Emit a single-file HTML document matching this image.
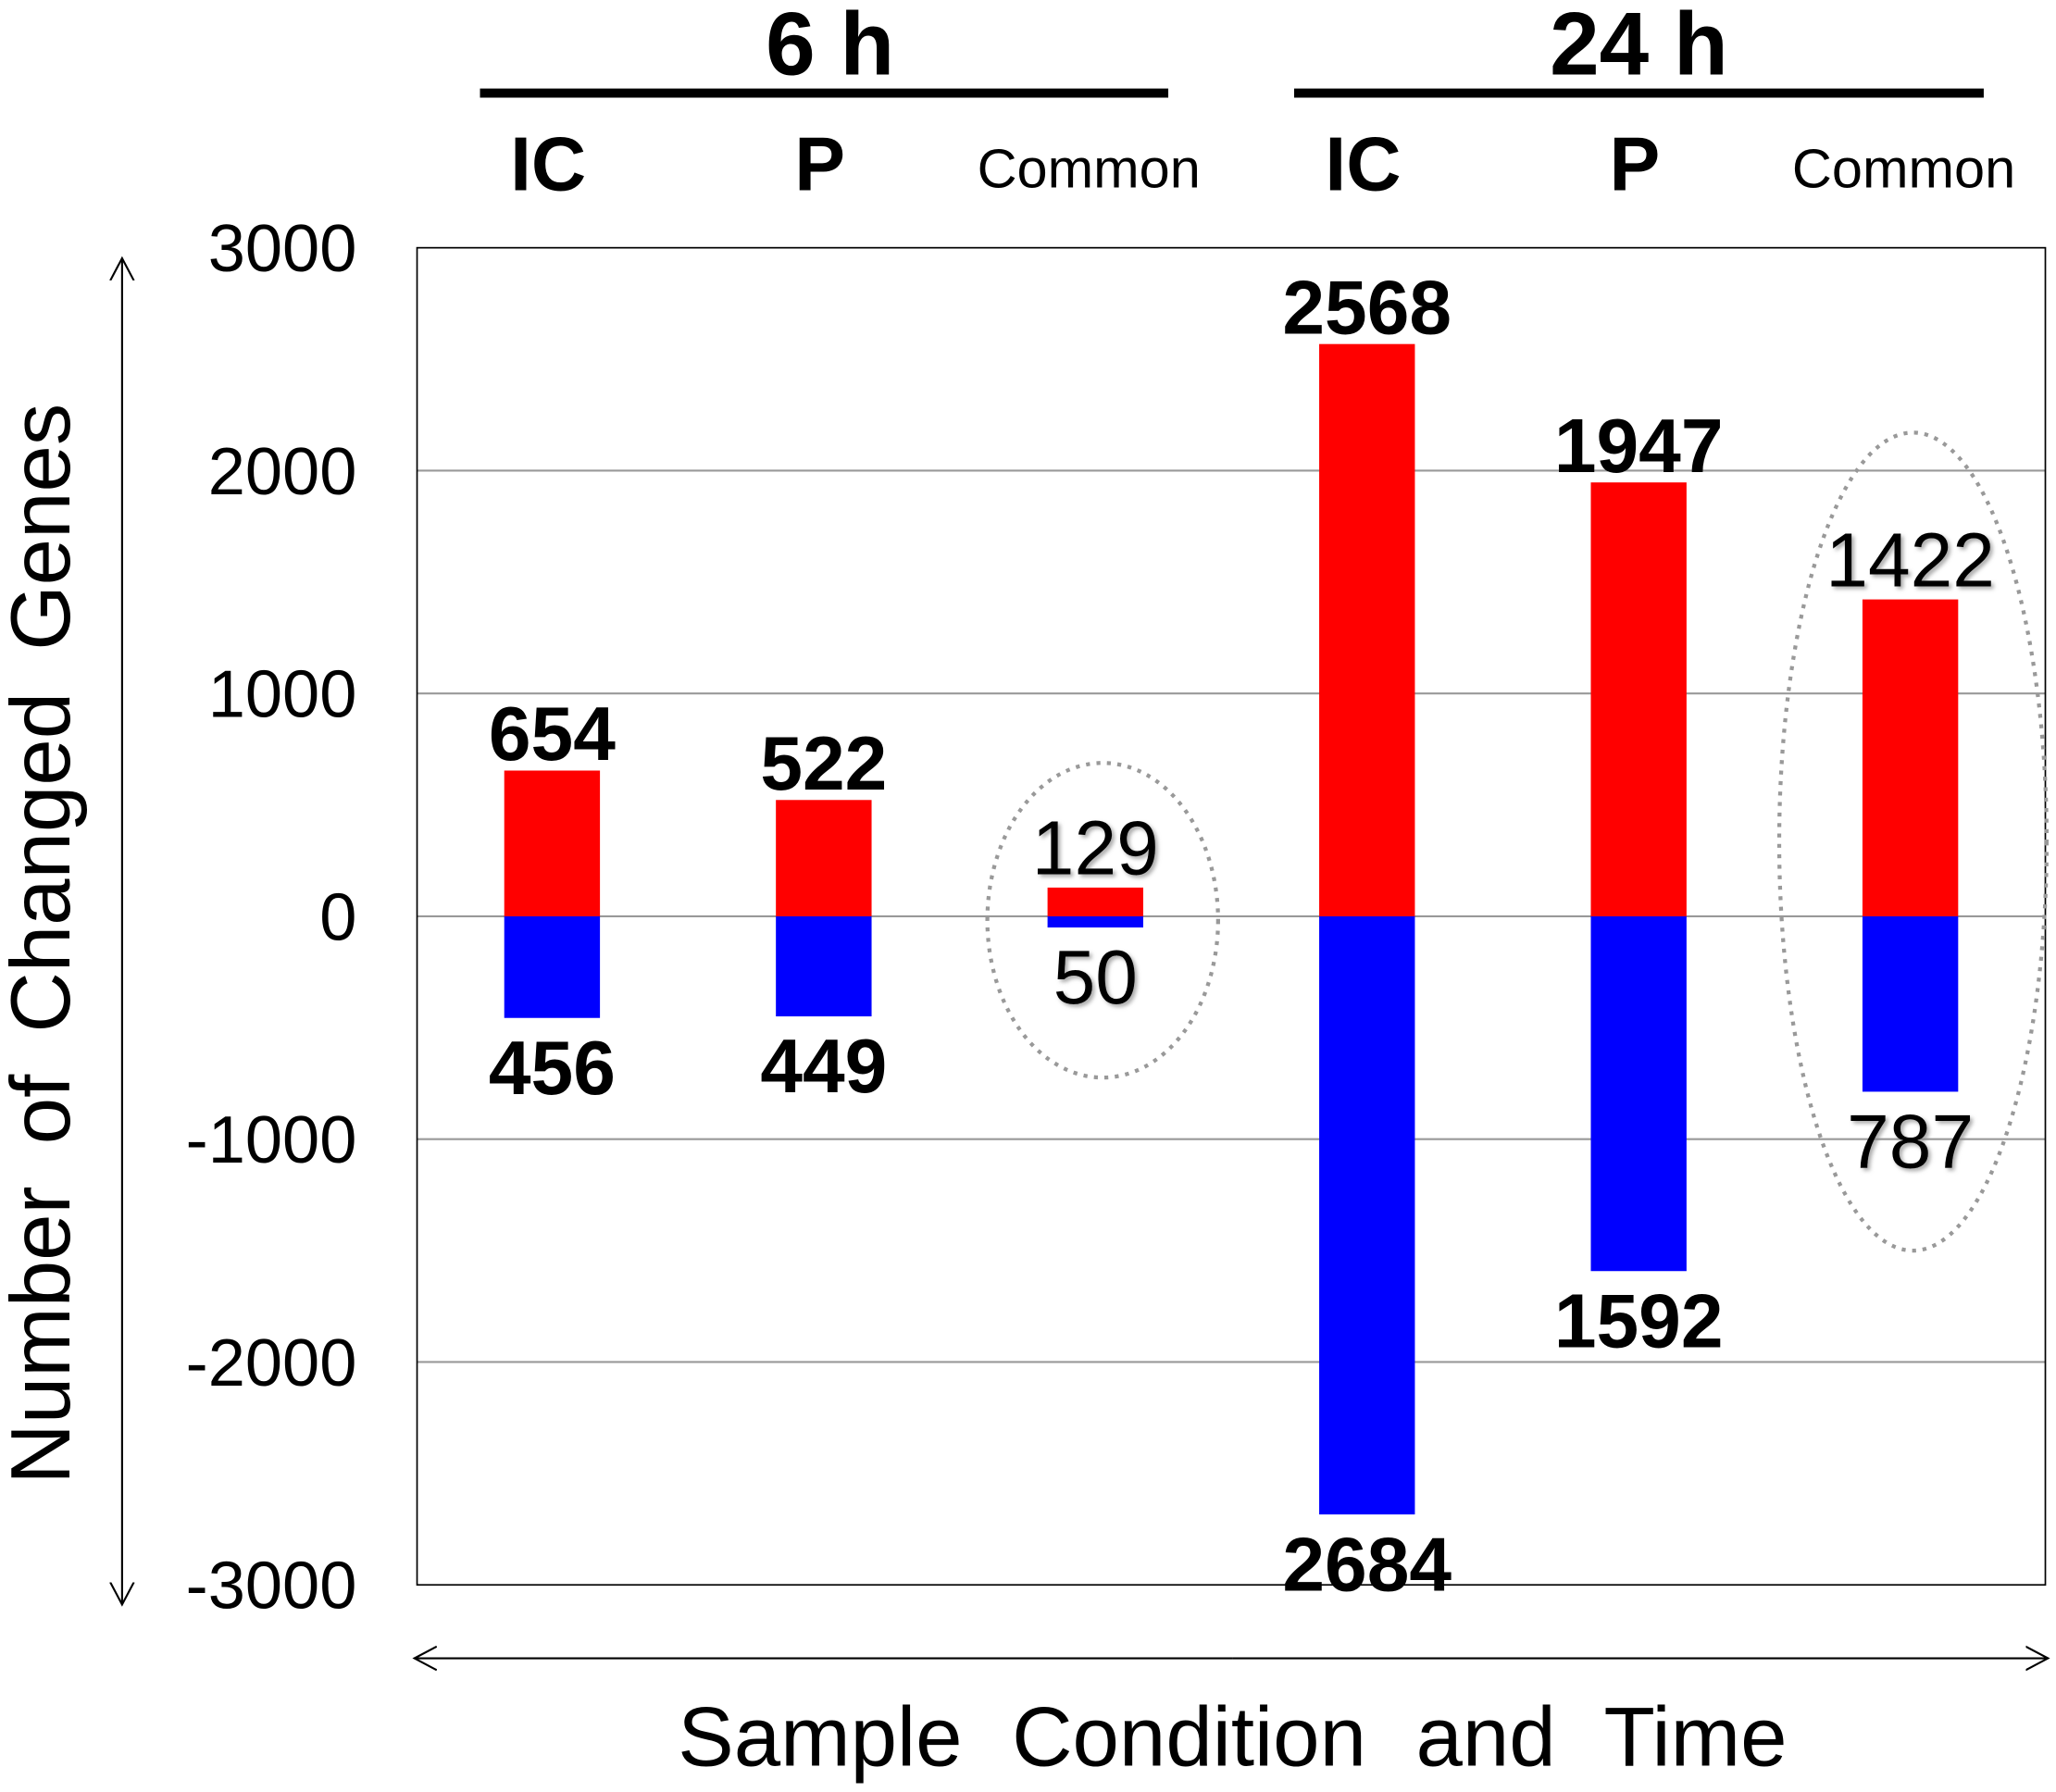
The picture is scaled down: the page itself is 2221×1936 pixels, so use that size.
<!DOCTYPE html>
<html><head><meta charset="utf-8"><style>
html,body{margin:0;padding:0;background:#fff;}
svg{display:block;font-family:"Liberation Sans",Arial,sans-serif;}
</style></head><body>
<svg id="chart" width="2221" height="1936" viewBox="0 0 1568 1367" xmlns="http://www.w3.org/2000/svg">
<defs>
<marker id="ah" markerWidth="20" markerHeight="20" refX="17" refY="10" orient="auto" markerUnits="userSpaceOnUse"><path d="M0,1 L17,10 L0,19" fill="none" stroke="#000" stroke-width="1.5"/></marker>
<filter id="sh"><feDropShadow dx="2" dy="2" stdDeviation="1.5" flood-color="#888" flood-opacity="0.7"/></filter>
</defs>
<g id="grid"></g>
<rect x="318" y="189" width="1242" height="1020" fill="none" stroke="#000" stroke-width="1.2"/>
<g id="yticks"></g>
<g id="bars"></g>
<g id="labels"></g>
<ellipse cx="841" cy="702" rx="88" ry="120" fill="none" stroke="#999" stroke-width="3" stroke-dasharray="3,5"/>
<ellipse cx="1459" cy="642" rx="102" ry="312" fill="none" stroke="#999" stroke-width="3" stroke-dasharray="3,5"/>
<text x="633" y="57" font-size="68" font-weight="bold" text-anchor="middle">6 h</text>
<line x1="366" y1="71" x2="891" y2="71" stroke="#000" stroke-width="7"/>
<text x="1250" y="57" font-size="68" font-weight="bold" text-anchor="middle">24 h</text>
<line x1="987" y1="71" x2="1513" y2="71" stroke="#000" stroke-width="7"/>
<g id="cats"></g>
<text transform="translate(53,720) rotate(-90)" font-size="64" text-anchor="middle" word-spacing="14">Number of Changed Genes</text>
<line x1="93" y1="710" x2="93" y2="197" stroke="#000" stroke-width="1.5" marker-end="url(#ah)"/>
<line x1="93" y1="710" x2="93" y2="1224" stroke="#000" stroke-width="1.5" marker-end="url(#ah)"/>
<line x1="940" y1="1265" x2="1562" y2="1265" stroke="#000" stroke-width="1.5" marker-end="url(#ah)"/>
<line x1="940" y1="1265" x2="316" y2="1265" stroke="#000" stroke-width="1.5" marker-end="url(#ah)"/>
<text x="940" y="1347" font-size="64" text-anchor="middle" word-spacing="20">Sample Condition and Time</text>
</svg>
<script>
const categories = ["IC","P","Common","IC","P","Common"];
const upValues = [654,522,129,2568,1947,1422];
const downValues = [456,449,50,2684,1592,787];
const tickValues = [3000,2000,1000,0,-1000,-2000,-3000];
const tickLabels = ["3000","2000","1000","0","-1000","-2000","-3000"];
const NS="http://www.w3.org/2000/svg";
const y = v => 699 - v*0.17;
const xc = i => 421 + i*207.2;
function mk(tag, attrs, parent, txt){const e=document.createElementNS(NS,tag);for(const k in attrs)e.setAttribute(k,attrs[k]);if(txt!==undefined)e.textContent=txt;parent.appendChild(e);return e;}
const grid=document.getElementById('grid'),yt=document.getElementById('yticks'),bars=document.getElementById('bars'),labels=document.getElementById('labels'),cats=document.getElementById('cats');
tickValues.forEach((v,i)=>{
  if(v!==3000&&v!==-3000){const l=mk('line',{x1:318,x2:1560,y1:y(v),y2:y(v),stroke:'#999','stroke-width':1.5},grid);
  
  }
  const t=mk('text',{x:272,y:y(v)+18,'font-size':51,'text-anchor':'end'},yt,tickLabels[i]);
  
  
});
categories.forEach((c,i)=>{
  const x=xc(i),w=73,common=c==="Common";
  const r=mk('rect',{x:x-w/2,y:y(upValues[i]),width:w,height:y(0)-y(upValues[i]),fill:'#ff0000'},bars);
  
  
  const b=mk('rect',{x:x-w/2,y:y(0),width:w,height:y(-downValues[i])-y(0),fill:'#0000ff'},bars);
  
  
  const a={x:x,y:y(upValues[i])-(common?10:8),'font-size':58,'font-weight':common?'normal':'bold','text-anchor':'middle'};
  if(common)a.filter='url(#sh)';
  const t1=mk('text',a,labels,String(upValues[i]));
  
  
  const a2=Object.assign({},a,{y:y(-downValues[i])+(common?58:58)});
  const t2=mk('text',a2,labels,String(downValues[i]));
  
  
  const ct=mk('text',{x:common?x-5:x-3,y:common?143:145,'font-size':common?42:58,'font-weight':common?'normal':'bold','text-anchor':'middle'},cats,c);
  
  
});
</script>
</body></html>
